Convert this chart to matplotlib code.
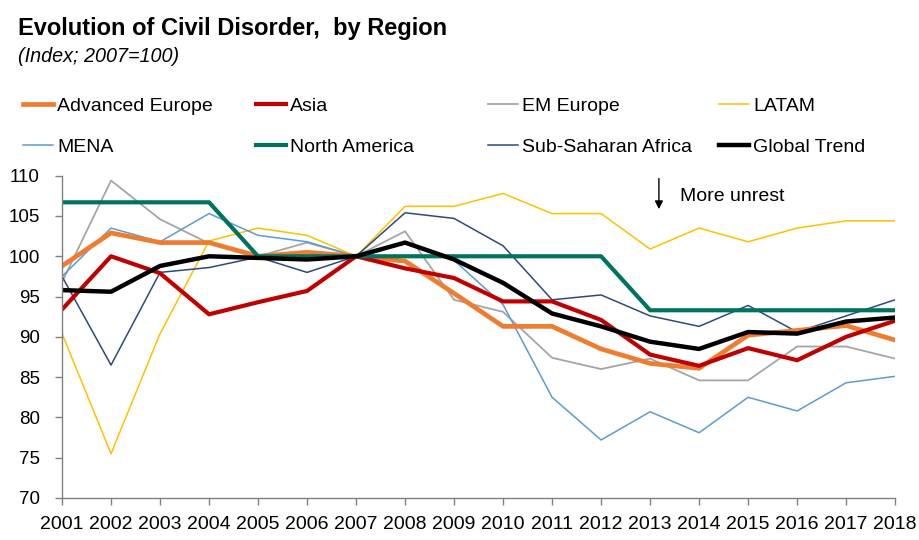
import matplotlib
matplotlib.use("Agg")
import matplotlib.pyplot as plt

# === Daten (Index; 2007=100) ===
years = list(range(2001, 2019))
adv_europe = [98.8, 102.9, 101.7, 101.7, 100.0, 100.5, 100.0, 99.4, 95.4, 91.3,
              91.3, 88.5, 86.7, 86.1, 90.2, 90.8, 91.4, 89.6]
asia = [93.4, 100.0, 97.9, 92.8, 94.3, 95.7, 100.0, 98.5, 97.3, 94.4,
        94.4, 92.1, 87.8, 86.4, 88.6, 87.1, 90.0, 92.0]
em_europe = [96.8, 109.4, 104.6, 101.6, 100.0, 101.7, 100.0, 103.1, 94.6, 93.1,
             87.4, 86.0, 87.3, 84.6, 84.6, 88.8, 88.8, 87.3]
latam = [90.4, 75.5, 90.4, 101.9, 103.5, 102.6, 100.0, 106.2, 106.2, 107.8,
         105.3, 105.3, 100.9, 103.5, 101.8, 103.5, 104.4, 104.4]
mena = [97.5, 103.5, 101.8, 105.3, 102.6, 101.8, 100.0, 101.6, 99.5, 94.0,
        82.5, 77.2, 80.7, 78.1, 82.5, 80.8, 84.3, 85.1]
north_america = [106.7, 106.7, 106.7, 106.7, 100.0, 100.0, 100.0, 100.0, 100.0, 100.0,
                 100.0, 100.0, 93.3, 93.3, 93.3, 93.3, 93.3, 93.3]
ssa = [97.5, 86.5, 98.0, 98.6, 99.9, 98.0, 100.0, 105.4, 104.7, 101.3,
       94.6, 95.2, 92.6, 91.3, 93.9, 90.6, 92.6, 94.6]
global_trend = [95.8, 95.6, 98.8, 100.0, 99.8, 99.6, 100.0, 101.7, 99.6, 96.7,
                92.9, 91.3, 89.4, 88.5, 90.6, 90.4, 91.9, 92.4]

plt.rcParams['font.family'] = ['Liberation Sans', 'DejaVu Sans']

fig = plt.figure(figsize=(9.19, 5.4), dpi=100)
ax = fig.add_axes([0.0675, 0.0778, 0.9065, 0.5968])

# dünne Linien zuerst, dicke Linien darüber
l_em, = ax.plot(years, em_europe, color='#A5A5A5', lw=1.3, label='EM Europe')
l_lat, = ax.plot(years, latam, color='#FFC000', lw=1.1, label='LATAM')
l_mena, = ax.plot(years, mena, color='#5B9BD5', lw=1.1, label='MENA')
l_ssa, = ax.plot(years, ssa, color='#2B4A80', lw=1.1, label='Sub-Saharan Africa')
l_adv, = ax.plot(years, adv_europe, color='#ED7D31', lw=3.4, label='Advanced Europe')
l_asia, = ax.plot(years, asia, color='#C00000', lw=3.0, label='Asia')
l_na, = ax.plot(years, north_america, color='#00735E', lw=3.0, label='North America')
l_glob, = ax.plot(years, global_trend, color='black', lw=3.2, label='Global Trend')

# === Achsen ===
ax.set_xlim(2001, 2018)
ax.set_ylim(70, 110)
ax.set_xticks(years)
ax.set_yticks(range(70, 111, 5))
for s in ['top', 'right']:
    ax.spines[s].set_visible(False)
for s in ['left', 'bottom']:
    ax.spines[s].set_color('#808080')
    ax.spines[s].set_linewidth(1.0)
ax.tick_params(axis='x', length=5, width=1, color='#808080', labelsize=14, pad=8)
ax.tick_params(axis='y', length=5, width=1, color='#808080', labelsize=13.5, pad=11)

# Pfeil "More unrest"
ax.annotate('', xy=(2013.18, 105.5), xytext=(2013.18, 110.0),
            arrowprops=dict(arrowstyle='-|>', color='black', lw=1.0,
                            mutation_scale=12), annotation_clip=False)
ax.text(2013.62, 107.4, 'More unrest', fontsize=14, va='center', ha='left')

# === Titel ===
fig.text(0.0196, 0.935, 'Evolution of Civil Disorder,  by Region',
         fontsize=17, fontweight='bold', va='baseline', ha='left')
fig.text(0.0196, 0.885, '(Index; 2007=100)', fontsize=14.2, style='italic',
         va='baseline', ha='left')

# === Legende: 2 Zeilen x 4 Spalten, gleichmäßig verteilt ===
rows = [[l_adv, l_asia, l_em, l_lat], [l_mena, l_na, l_ssa, l_glob]]
col_x = [23, 256, 488, 719]
row_top = [97, 138]
for r, row in enumerate(rows):
    for c, line in enumerate(row):
        fig.legend(handles=[line], loc='upper left',
                   bbox_to_anchor=(col_x[c] / 919, 1 - row_top[r] / 540),
                   frameon=False, fontsize=14, borderpad=0, borderaxespad=0,
                   handlelength=1.55, handletextpad=0.2)

fig.savefig('out.png', dpi=100)
